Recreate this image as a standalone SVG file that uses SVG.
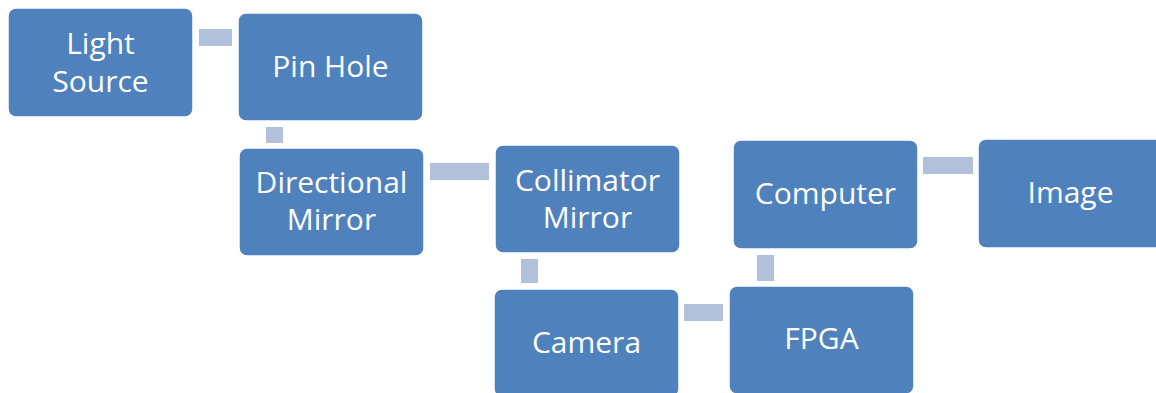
<svg xmlns="http://www.w3.org/2000/svg" width="1156" height="393" viewBox="0 0 1156 393">
  <style>
    .box { fill: #4F81BD; stroke: #FFFFFF; stroke-width: 1.5; }
    .lbl { fill: #FFFFFF; font-family: "Open Sans", "Liberation Sans", sans-serif; font-size: 30px; text-anchor: middle; }
    .link { fill: #B1C1DC; }
  </style>
  <rect width="1156" height="393" fill="#FFFFFF"/>

  <!-- connectors between stages -->
  <g id="connectors">
    <rect class="link" x="199" y="29" width="33" height="17"/>
    <rect class="link" x="266" y="127" width="17" height="16"/>
    <rect class="link" x="430" y="163" width="59" height="17"/>
    <rect class="link" x="521" y="259" width="17" height="24"/>
    <rect class="link" x="684" y="304" width="39" height="17"/>
    <rect class="link" x="757" y="255" width="17" height="26"/>
    <rect class="link" x="923" y="157" width="50" height="17"/>
  </g>

  <g id="light-source">
    <rect class="box" x="8" y="8" width="185" height="109" rx="8"/>
    <text class="lbl" x="100.5" y="54">Light</text>
    <text class="lbl" x="100.5" y="92">Source</text>
  </g>

  <g id="pin-hole">
    <rect class="box" x="238" y="13" width="185" height="108" rx="8"/>
    <text class="lbl" x="330.5" y="77">Pin Hole</text>
  </g>

  <g id="directional-mirror">
    <rect class="box" x="239" y="148" width="185" height="108" rx="8"/>
    <text class="lbl" x="331.5" y="193">Directional</text>
    <text class="lbl" x="331.5" y="230">Mirror</text>
  </g>

  <g id="collimator-mirror">
    <rect class="box" x="495" y="145" width="185" height="108" rx="8"/>
    <text class="lbl" x="587.5" y="191">Collimator</text>
    <text class="lbl" x="587.5" y="228">Mirror</text>
  </g>

  <g id="camera">
    <rect class="box" x="494" y="289" width="185" height="108" rx="8"/>
    <text class="lbl" x="586.5" y="353">Camera</text>
  </g>

  <g id="fpga">
    <rect class="box" x="729" y="286" width="185" height="108" rx="8"/>
    <text class="lbl" x="821.5" y="349">FPGA</text>
  </g>

  <g id="computer">
    <rect class="box" x="733" y="140" width="185" height="109" rx="8"/>
    <text class="lbl" x="825.5" y="204">Computer</text>
  </g>

  <g id="image">
    <rect class="box" x="978" y="139" width="185" height="109" rx="8"/>
    <text class="lbl" x="1070.5" y="203">Image</text>
  </g>
</svg>
